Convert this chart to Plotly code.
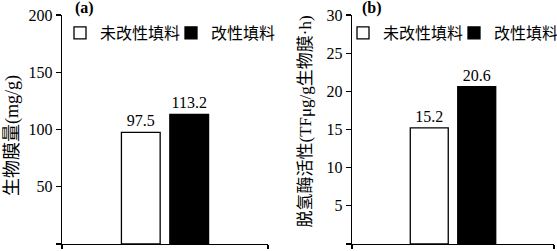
import plotly.graph_objects as go

# ---- data ----
series_names = ["未改性填料", "改性填料"]
biofilm_values = [97.5, 113.2]          # (a) 生物膜量 (mg/g)
dehydrogenase_values = [15.2, 20.6]     # (b) 脱氢酶活性
category = ["填料"]
left_ticks = [0, 50, 100, 150, 200]
right_ticks = [0, 5, 10, 15, 20, 25, 30]
left_title = "生物膜量(mg/g)"
right_title = "脱氢酶活性(TFμg/g生物膜·h)"
panel_labels = ["(a)", "(b)"]

FONT = "Liberation Serif, 'Noto Sans CJK SC', serif"
fills = ["white", "black"]

W, H = 557, 251
PT, PB = 15, 7
PH = H - PT - PB


def py(px):
    """pixel row -> paper y fraction"""
    return (H - PB - px) / PH


fig = go.Figure()

for i, name in enumerate(series_names):
    fig.add_trace(go.Bar(
        x=category, y=[biofilm_values[i]], name=name,
        marker=dict(color=fills[i], line=dict(color="black", width=1.3)),
        text=[f"{biofilm_values[i]:.1f}"], textposition="outside",
        constraintext="none", cliponaxis=False,
        textfont=dict(family=FONT, size=16, color="black"),
        xaxis="x", yaxis="y", legend="legend", showlegend=True,
    ))
for i, name in enumerate(series_names):
    fig.add_trace(go.Bar(
        x=category, y=[dehydrogenase_values[i]], name=name,
        marker=dict(color=fills[i], line=dict(color="black", width=1.3)),
        text=[f"{dehydrogenase_values[i]:.1f}"], textposition="outside",
        constraintext="none", cliponaxis=False,
        textfont=dict(family=FONT, size=16, color="black"),
        xaxis="x2", yaxis="y2", legend="legend2", showlegend=True,
    ))

xax = dict(showticklabels=False, ticks="outside", tickson="boundaries",
           ticklen=4, tickcolor="black", tickwidth=1.3,
           showline=True, linecolor="black", linewidth=1.3,
           showgrid=False, zeroline=False, fixedrange=True)
yax = dict(ticks="outside", ticklen=5, tickcolor="black", tickwidth=1.3,
           showline=True, linecolor="black", linewidth=1.3,
           showgrid=False, zeroline=False, automargin=False,
           tickfont=dict(family=FONT, size=16, color="black"))

label_font = dict(family=FONT, size=16, color="black")

fig.update_layout(
    width=W, height=H,
    margin=dict(l=0, r=0, t=PT, b=PB, autoexpand=False),
    paper_bgcolor="white", plot_bgcolor="white",
    font=dict(family=FONT, size=16, color="black"),
    barmode="group", bargap=0.53, bargroupgap=0.2,
    xaxis=dict(domain=[62 / W, 268 / W], anchor="y", **xax),
    xaxis2=dict(domain=[352 / W, 554 / W], anchor="y2", **xax),
    yaxis=dict(anchor="x", range=[0, 200], tickvals=left_ticks, **yax),
    yaxis2=dict(anchor="x2", range=[0, 30], tickvals=right_ticks, **yax),
    legend=dict(orientation="h", x=60 / W, xanchor="left",
                y=py(33), yanchor="middle",
                bgcolor="rgba(0,0,0,0)", entrywidth=66,
                font=label_font),
    legend2=dict(orientation="h", x=343 / W, xanchor="left",
                 y=py(33), yanchor="middle",
                 bgcolor="rgba(0,0,0,0)", entrywidth=66,
                 font=label_font),
    annotations=[
        dict(text=f"<b>{panel_labels[0]}</b>", x=73 / W, y=py(8),
             xref="paper", yref="paper", xanchor="left", yanchor="middle",
             showarrow=False, font=label_font),
        dict(text=f"<b>{panel_labels[1]}</b>", x=360 / W, y=py(8),
             xref="paper", yref="paper", xanchor="left", yanchor="middle",
             showarrow=False, font=label_font),
        dict(text=left_title, textangle=-90, x=12 / W, y=py(136),
             xref="paper", yref="paper", xanchor="center", yanchor="middle",
             showarrow=False, font=dict(family=FONT, size=18, color="black")),
        dict(text=right_title, textangle=-90, x=305 / W, y=py(121.5),
             xref="paper", yref="paper", xanchor="center", yanchor="middle",
             showarrow=False, font=dict(family=FONT, size=17, color="black")),
    ],
)

fig.write_html("out.html",
               config={"displayModeBar": False, "staticPlot": True},
               post_script="document.body.style.margin='0';"
                           "document.body.style.overflow='hidden';")
